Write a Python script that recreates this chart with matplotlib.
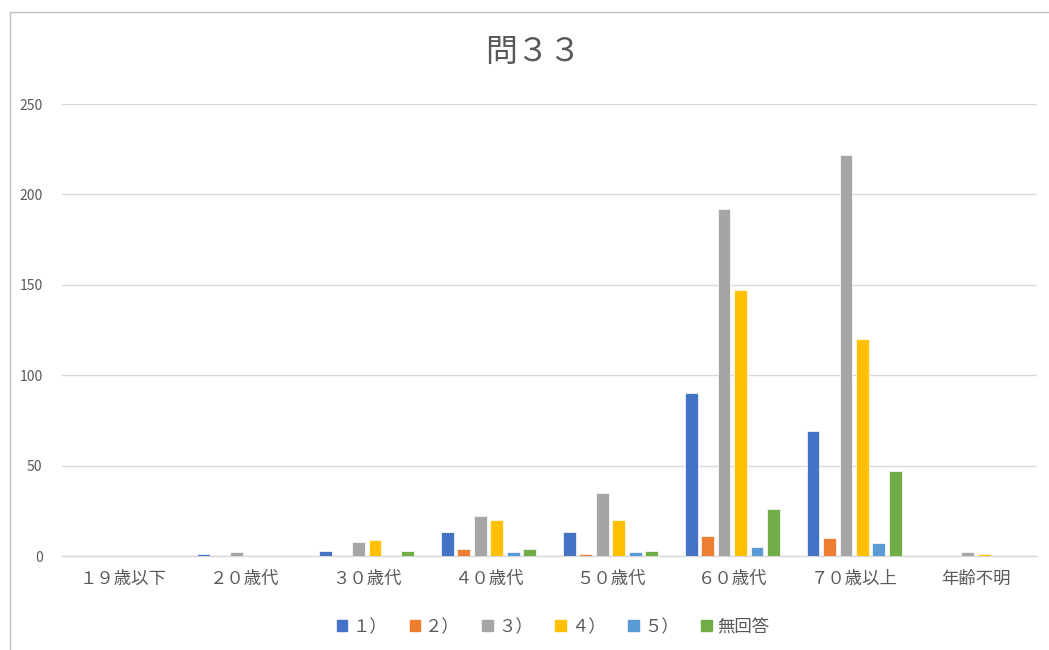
import matplotlib
matplotlib.use("Agg")
import matplotlib.pyplot as plt
import matplotlib.patches as mpatches
import numpy as np

plt.rcParams['font.family'] = ['Noto Sans CJK JP', 'DejaVu Sans']

categories = ["１９歳以下", "２０歳代", "３０歳代", "４０歳代", "５０歳代", "６０歳代", "７０歳以上", "年齢不明"]
series_names = ["１）", "２）", "３）", "４）", "５）", "無回答"]
s1 = [0, 1, 3, 13, 13, 90, 69, 0]
s2 = [0, 0, 0, 4, 1, 11, 10, 0]
s3 = [0, 2, 8, 22, 35, 192, 222, 2]
s4 = [0, 0, 9, 20, 20, 147, 120, 1]
s5 = [0, 0, 0, 2, 2, 5, 7, 0]
s6 = [0, 0, 3, 4, 3, 26, 47, 0]
series = [s1, s2, s3, s4, s5, s6]
colors = ["#4472C4", "#ED7D31", "#A5A5A5", "#FFC000", "#5B9BD5", "#70AD47"]

fig = plt.figure(figsize=(10.49, 6.5), dpi=100)
ax = fig.add_axes([62/1049, 1-556/650, (1037-62)/1049, (556-104)/650])

x = np.arange(len(categories))
step = 0.135
width = 0.105
for i, (vals, c, name) in enumerate(zip(series, colors, series_names)):
    ax.bar(x + (i - 2.5) * step, vals, width=width, color=c, label=name,
           edgecolor='white', linewidth=0.5, zorder=3)

ax.set_xlim(-0.5, len(categories) - 0.5)
ax.set_ylim(0, 250)
ax.set_yticks([0, 50, 100, 150, 200, 250])
ax.yaxis.grid(True, color='#D9D9D9', linewidth=1, zorder=0)
for s in ['top', 'right', 'left']:
    ax.spines[s].set_visible(False)
ax.spines['bottom'].set_color('#D9D9D9')
ax.spines['bottom'].set_linewidth(1)
ax.tick_params(axis='both', length=0, colors='#595959', labelsize=10)
ax.tick_params(axis='x', pad=10, labelsize=12.5)
ax.tick_params(axis='y', pad=14)
ax.set_xticks(x)
ax.set_xticklabels(categories)

fig.text(0.508, 1 - 52/650, "問３３", ha='center', va='center', fontsize=23, color='#595959')

handles = [mpatches.Patch(color=c) for c in colors]
fig.legend(handles, series_names, loc='center', bbox_to_anchor=(0.527, 1 - 627/650),
           ncol=6, frameon=False, fontsize=12.5, handlelength=0.6, handleheight=0.6,
           handletextpad=0.3, columnspacing=1.3, labelcolor='#595959')

border = mpatches.Rectangle((10/1049, -0.05), 1.1, 1 - 12/650 + 0.05, transform=fig.transFigure,
                            fill=False, edgecolor='#BFBFBF', linewidth=1)
fig.patches.append(border)

fig.savefig("out.png", dpi=100)
